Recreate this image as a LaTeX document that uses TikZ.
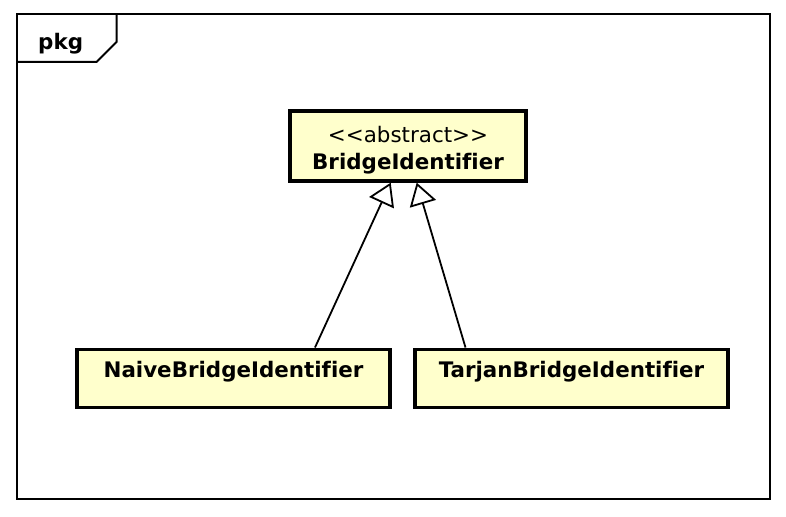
\documentclass[tikz,border=0pt]{standalone}
\usepackage{fontspec}
\setmainfont{DejaVu Sans}[Ligatures={TeXOff,NoCommon}]
\usepackage{tikz}
\usepackage{xcolor}
\usetikzlibrary{calc,positioning,arrows.meta}
\definecolor{classfill}{RGB}{255,255,204}
\tikzset{
  frame/.style={draw=black, line width=2pt},
  inherit/.style={draw, line width=1.8pt, -{Triangle[open, length=22pt, width=27pt, fill=white]}},
}

\begin{document}
\begin{tikzpicture}[x=1pt, y=-1pt]
    \tikzset{
        classbox/.style={rectangle, draw=black, fill=classfill, line width=3.4pt, inner sep=0pt, minimum width=313pt, minimum height=58pt, text height=28pt, text depth=30pt, font=\fontsize{21.4}{25}\selectfont\bfseries},
        stereo/.style={anchor=base, inner sep=0pt, font=\fontsize{21.4}{25}\selectfont},
    }
    \useasboundingbox (0,0) rectangle (786,516);
    % package frame
    \draw[frame] (17,14) rectangle (770,499);
    \draw[frame] (17,62) -- (96.5,62) -- (116.5,42) -- (116.5,14);
    \node[anchor=base west, inner sep=0pt, font=\fontsize{21.4}{25}\selectfont\bfseries] (pkgLabel) at (38,50) {pkg};

    \node[classbox, minimum width=236pt, minimum height=70pt, text height=58.5pt, text depth=11.5pt] (BridgeItem) at (408,146) {BridgeIdentifier};
    \node[stereo] (BridgeStereo) at ([yshift=-33.5pt]BridgeItem.north) {<<abstract>>};
    \coordinate[below=195.5pt of BridgeItem, xshift=-5.5pt] (AuxNode01);
    \node[classbox, left=10.8pt of AuxNode01] (NaiveItem) {NaiveBridgeIdentifier};
    \node[classbox, right=10.8pt of AuxNode01] (TarjanItem) {TarjanBridgeIdentifier};

    \draw[inherit] ([xshift=81.5pt]NaiveItem.north) -- ([xshift=-17.3pt]BridgeItem.south);
    \draw[inherit] ([xshift=-106pt]TarjanItem.north) -- ([xshift=8.7pt]BridgeItem.south);
\end{tikzpicture}
\end{document}
